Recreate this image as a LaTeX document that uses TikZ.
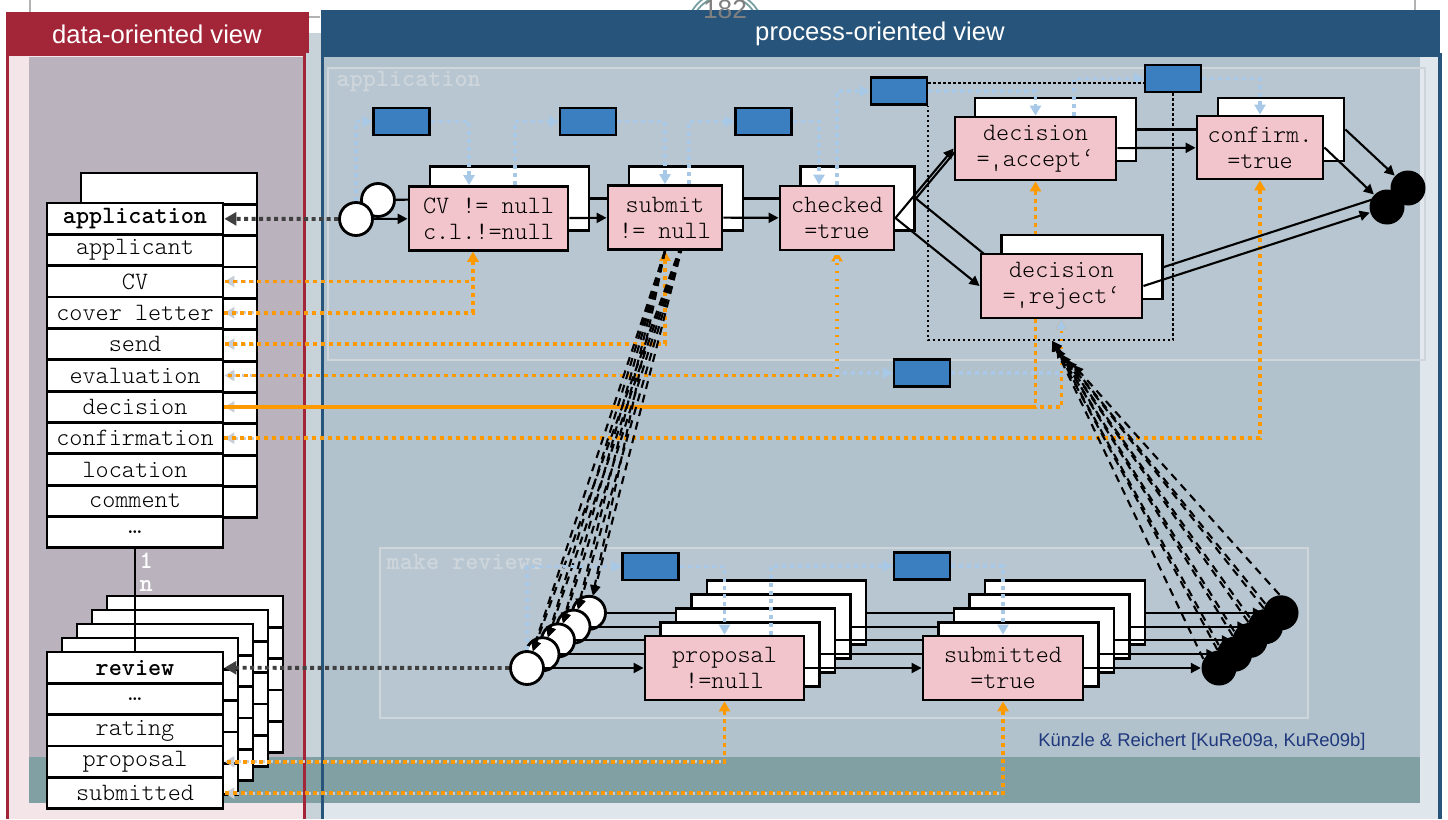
\documentclass[tikz,border=0pt]{standalone}
\usepackage{fontspec}
\setmainfont{Liberation Sans}
\setmonofont{lmmonolt10-regular.otf}[BoldFont=lmmonolt10-bold.otf]
\usepackage{tikz}
\usetikzlibrary{arrows.meta}

\pgfdeclarelayer{panels}
\pgfdeclarelayer{wires}
\pgfsetlayers{panels,wires,main}

\definecolor{headred}{RGB}{163,37,56}
\definecolor{headblue}{RGB}{39,84,122}
\definecolor{datapanel}{RGB}{186,178,188}
\definecolor{procpanel}{RGB}{178,194,205}
\definecolor{procstrip}{RGB}{224,231,236}
\definecolor{gapgrey}{RGB}{200,210,217}
\definecolor{stripink}{RGB}{243,229,232}
\definecolor{bandteal}{RGB}{128,160,164}
\definecolor{condpink}{RGB}{242,196,203}
\definecolor{datablue}{RGB}{59,127,192}
\definecolor{flowblue}{RGB}{168,200,232}
\definecolor{attrorange}{RGB}{255,153,0}
\definecolor{ghostgrey}{RGB}{200,206,211}
\definecolor{linkgrey}{RGB}{64,64,64}
\definecolor{creditblue}{RGB}{31,56,125}
\definecolor{scopegrey}{RGB}{206,214,220}
\definecolor{numring}{RGB}{118,158,160}

\begin{document}
\begin{tikzpicture}[x=0.1mm, y=-0.1mm,
	  mono/.style = {font=\fontsize{7.1}{7.4}\selectfont\ttfamily},
	  attr/.style = {mono, draw, line width=0.8pt, fill=white,
	    minimum width=17.6mm, minimum height=3.135mm, inner sep=0pt},
	  inst/.style = {draw, line width=0.8pt, fill=white, inner sep=0pt, minimum height=6.4mm},
	  cond/.style = {inst, mono, fill=condpink, align=center},
	  dobj/.style = {draw, line width=0.7pt, fill=datablue,
	    minimum width=5.6mm, minimum height=2.7mm, inner sep=0pt},
	  startnode/.style = {circle, draw, line width=0.8pt, fill=white, minimum size=3.3mm, inner sep=0pt},
	  endnode/.style = {circle, fill=black, minimum size=3.5mm, inner sep=0pt},
	  trans/.style = {line width=0.6pt, -{Triangle[length=1mm,width=1mm]}},
	  flow/.style = {flowblue, line width=1pt, dash pattern=on 0.4mm off 0.4mm,
	    -{Triangle[length=1mm,width=1.1mm]}},
	  attrflow/.style = {attrorange, line width=1pt, dash pattern=on 0.4mm off 0.4mm,
	    {Triangle[length=1mm,width=1.1mm]}-},
	  ghost/.style = {ghostgrey, line width=0.9pt, dash pattern=on 0.4mm off 0.4mm,
	    -{Triangle[length=1mm,width=1.1mm]}},
	  objlink/.style = {linkgrey, line width=1.1pt, dash pattern=on 0.4mm off 0.35mm,
	    -{Triangle[length=1.2mm,width=1.3mm]}},
	  spawn/.style = {line width=0.6pt, dash pattern=on 0.8mm off 0.6mm,
	    -{Triangle[length=1mm,width=0.9mm]}},
	  grpline/.style = {line width=0.6pt, dash pattern=on 0.25mm off 0.25mm},
	  scopebox/.style = {draw=scopegrey, line width=0.4pt, fill=white, fill opacity=0.07},
	  scopelabel/.style = {font=\fontsize{7.1}{7.4}\selectfont\ttfamily\bfseries,
	    text=scopegrey, anchor=west, inner sep=0pt},
	  headtext/.style = {text=white, font=\fontsize{7.3}{8.8}\selectfont}]
	\useasboundingbox (0,0) rectangle (1448,819);

	\begin{pgfonlayer}{panels}
	  % slide frame, page number ring
	  \draw[gray!60, line width=0.4pt] (30,0) -- (30,13) (1415,0) -- (1415,11);
	  \draw[gray!60, line width=0.4pt, dashed] (309,17) -- (321,17);
	  \draw[numring, line width=0.5pt] (725,30) circle[radius=38] (725,30) circle[radius=34];
	  % the two views
	  \fill[stripink] (9,55) rectangle (303,819);
	  \fill[datapanel] (29,57) rectangle (303,757);
	  \fill[gapgrey] (306,33) rectangle (321,819);
	  \fill[procstrip] (324,56) rectangle (1438,819);
	  \fill[procpanel] (324,57) rectangle (1420,757);
	  \fill[bandteal] (29,757) rectangle (1420,803);
	  \draw[headred, line width=1pt] (7.5,819) -- (7.5,54) -- (304.5,54) -- (304.5,819);
	  \draw[headblue, line width=1pt] (322.5,819) -- (322.5,55) -- (1440,55) -- (1440,819);
	  \fill[headred] (6,12) rectangle (309,53);
	  \fill[headblue] (321,10) rectangle (1440,56);
	  % scopes
	  \filldraw[scopebox] (328,68) rectangle (1425,360);
	  \filldraw[scopebox] (380,548) rectangle (1308,718);
	  % stacked record instances
	  \foreach \i in {0,...,10}
	    \node[attr] (ab\i) at (169,188.7+31.35*\i) {};
	  \foreach \j in {4,3,2,1}
	    \foreach \i in {0,...,4}
	      \node[attr] (rb\j-\i) at (135+15*\j,667.7-14*\j+31.35*\i) {};
	\end{pgfonlayer}

	\node[headtext] (dtitle) at (157,34) {data-oriented view};
	\node[headtext] (ptitle) at (880,34) {process-oriented view};
	\node[text=gray, font=\fontsize{7.5}{9}\selectfont] (pageno) at (725,9) {182};
	\node[scopelabel] (applabel) at (336,82) {application};
	\node[scopelabel] (revlabel) at (386,562) {make reviews};

	% application record
	\node[attr] (a0) at (135,218.7) {\textbf{application}};
	\foreach \t [count=\i] in {applicant,CV,cover letter,send,evaluation,decision,confirmation,location,comment,…}
	  \node[attr] (a\i) at (135,218.7+31.35*\i) {\t};
	% review record
	\node[attr] (r0) at (135,667.7) {\textbf{review}};
	\foreach \t [count=\i] in {…,rating,proposal,submitted}
	  \node[attr] (r\i) at (135,667.7+31.35*\i) {\t};
	\draw[line width=0.8pt] (a10.south) -- (r0.north);
	\node[scopelabel, text=white] (one) at (139,561) {1};
	\node[scopelabel, text=white] (many) at (139,586) {n};

	% review instances, back to front
	\foreach \j in {4,3,2,1} {
	  \node[startnode] (rs\j) at (527+15.5*\j,668-13.8*\j) {};
	  \node[inst, minimum width=15.9mm] (prop\j) at (724.5+15.5*\j,668-13.8*\j) {};
	  \node[inst, minimum width=16mm] (subm\j) at (1003+15.5*\j,668-13.8*\j) {};
	  \node[endnode] (re\j) at (1219+15.5*\j,668-13.8*\j) {};
	  \draw[trans] (rs\j) -- (prop\j);
	  \draw[trans] (prop\j) -- (subm\j);
	  \draw[trans] (subm\j) -- (re\j);
	}
	\node[startnode] (rs0) at (527,668) {};
	\node[cond, minimum width=15.9mm] (proposal) at (724.5,668) {proposal\\!=null};
	\node[cond, minimum width=16mm] (submitted) at (1003,668) {submitted\\=true};
	\node[endnode] (re0) at (1219,668) {};
	\draw[trans] (rs0) -- (proposal);
	\draw[trans] (proposal) -- (submitted);
	\draw[trans] (submitted) -- (re0);

	% application, second instance
	\node[inst, minimum width=15.9mm] (cvb) at (509.5,198.5) {};
	\node[inst, minimum width=11.4mm] (submitb) at (686,198.5) {};
	\node[inst, minimum width=11.4mm] (checkedb) at (857.5,198.5) {};
	\node[inst, minimum width=16.1mm, minimum height=6.3mm] (acceptb) at (1055.5,129.5) {};
	\node[inst, minimum width=12.6mm, minimum height=6.3mm] (confirmb) at (1281,129.5) {};
	\node[inst, minimum width=16.1mm] (rejectb) at (1082,267) {};
	\node[startnode] (s1) at (378,200) {};
	\node[endnode] (e1) at (1408,188) {};
	\draw[trans] (s1) -- (cvb);
	\draw[trans] (cvb) -- (submitb);
	\draw[trans] (submitb) -- (checkedb);
	\draw[trans] (checkedb.east) -- (acceptb.west);
	\draw[trans] (checkedb.east) -- (rejectb.west);
	\draw[trans] (acceptb) -- (confirmb);
	\draw[trans] (confirmb.east) -- (e1);
	\draw[trans] (rejectb.east) -- (e1);
	\foreach \j in {0,...,4}
	  \draw[spawn] (submitb.south) -- (rs\j);

	% application, first instance
	\node[cond, minimum width=15.9mm] (cv) at (488.5,218.5) {CV != null\\c.l.!=null};
	\node[cond, minimum width=11.4mm] (submit) at (665,217.5) {submit\\!= null};
	\node[cond, minimum width=11.4mm] (checked) at (837,218) {checked\\=true};
	\node[cond, minimum width=16.1mm, minimum height=6.3mm] (accept) at (1035.5,148.5) {decision\\=‚accept‘};
	\node[cond, minimum width=12.6mm, minimum height=6.3mm] (confirm) at (1260,147.5) {confirm.\\=true};
	\node[cond, minimum width=16.1mm] (reject) at (1061.5,286) {decision\\=‚reject‘};
	\node[startnode] (s2) at (356,219) {};
	\node[endnode] (e2) at (1387,207) {};
	\draw[trans] (s2) -- (cv);
	\draw[trans] (cv) -- (submit);
	\draw[trans] (submit) -- (checked);
	\draw[trans] (checked.east) -- (accept.west);
	\draw[trans] (checked.east) -- (reject.west);
	\draw[trans] (accept) -- (confirm);
	\draw[trans] (confirm.east) -- (e2);
	\draw[trans] (reject.east) -- (e2);

	% data objects
	\node[dobj] (d1) at (401.5,121.5) {};
	\node[dobj] (d2) at (588,121.5) {};
	\node[dobj] (d3) at (763.5,121.5) {};
	\node[dobj] (d4) at (899,91) {};
	\node[dobj] (d5) at (1173,78.5) {};
	\node[dobj] (d6) at (922,373) {};
	\node[dobj] (d7) at (650.5,566.5) {};
	\node[dobj] (d8) at (922,566) {};

	% attribute links to the records
	\begin{pgfonlayer}{wires}
	  \foreach \i in {2,...,7}
	    \draw[ghost] ([xshift=3mm]a\i.east) -- (a\i.east);
	  \draw[ghost, dash phase=0.4mm] (r3.east -| proposal.south) -- (r3.east);
	  \draw[ghost, dash phase=0.4mm] (r4.east -| submitted.south) -- (r4.east);
	  \draw[attrorange, line width=1pt] (a6.east) -- (a6.east -| accept.south);
	  \draw[attrflow] ([xshift=-1.55mm]cv.south) |- (a2.east);
	  \draw[attrflow] ([xshift=-1.55mm]cv.south) |- (a3.east);
	  \draw[attrflow] (submit.south) |- (a4.east);
	  \draw[attrflow] (checked.south) |- (a5.east);
	  \draw[attrflow] (accept.south) |- (a6.east);
	  \draw[attrflow] (reject.south) |- (a6.east);
	  \draw[attrflow] (confirm.south) |- (a7.east);
	  \draw[attrflow] (proposal.south) |- (r3.east);
	  \draw[attrflow] (submitted.south) |- (r4.east);
	\end{pgfonlayer}

	% data flow
	\draw[flow] (s2.north) |- (d1.west);
	\draw[flow] (d1.east) -| ([xshift=-1.95mm]cv.north);
	\draw[flow] ([xshift=2.65mm]cv.north) |- (d2.west);
	\draw[flow] (d2.east) -| (submit.north);
	\draw[flow] ([xshift=2.4mm]submit.north) |- (d3.west);
	\draw[flow] (d3.east) -| ([xshift=-1.8mm]checked.north);
	\draw[flow] (checked.north) |- (d4.west);
	\draw[flow] (d4.east) -| (accept.north);
	\draw[flow] ([xshift=3.85mm]accept.north) |- (d5.west);
	\draw[flow] (d5.east) -| (confirm.north);
	\draw[flow] (checked.south) |- (d6.west);
	\draw[flow] (d6.east) -| (reject.south);
	\draw[flow] (rs0.north) |- (d7.west);
	\draw[flow] (d7.east) -| (proposal.north);
	\draw[flow] ([xshift=4.65mm]proposal.north) |- (d8.west);
	\draw[flow] (d8.east) -| (submitted.north);

	% decision group
	\coordinate (grptop) at ([yshift=0.8mm]d4.east);
	\draw[grpline] (grptop) -- (grptop -| d5.west);
	\draw[grpline] (d5.south) -- ++(0,247) -| (d4.south east);
	\coordinate (grpfoot) at (1052,341);

	% record links
	\draw[objlink] (s2) -- (a0);
	\draw[objlink] (rs0) -- (r0);

	% spawning and joining the reviews
	\foreach \j in {0,...,4}
	  \draw[spawn] (submit.south) -- (rs\j);
	\foreach \j in {0,...,4} {
	  \draw[spawn] (re\j.150) -- (grpfoot);
	  \draw[spawn, shorten >=\j*0.8mm] (re\j.95) -- (grpfoot);
	}

	\node[text=creditblue, font=\fontsize{5.25}{6.3}\selectfont] (credit) at (1202,742)
	  {Künzle \& Reichert [KuRe09a, KuRe09b]};
\end{tikzpicture}
\end{document}
